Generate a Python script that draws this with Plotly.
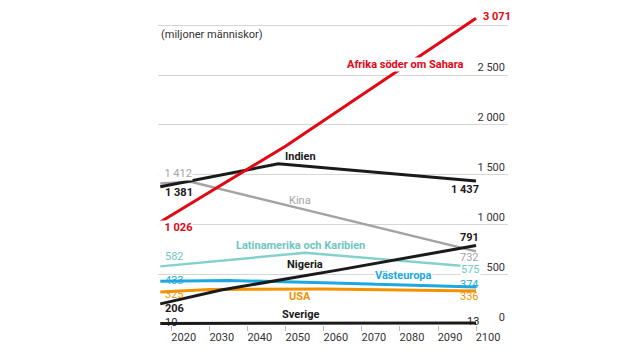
import plotly.graph_objects as go

# ---- data (miljoner människor) ----
ssa_years = [2017, 2030, 2050, 2100]
ssa_vals = [1026, 1330, 1790, 3071]

india_years = [2017, 2048, 2100]
india_vals = [1381, 1610, 1437]

china_years = [2017, 2025, 2100]
china_vals = [1412, 1430, 732]

latam_years = [2017, 2055, 2100]
latam_vals = [582, 718, 575]

nigeria_years = [2017, 2033, 2064, 2100]
nigeria_vals = [206, 345, 547, 791]

weu_years = [2017, 2035, 2060, 2100]
weu_vals = [433, 440, 418, 374]

usa_years = [2017, 2030, 2060, 2100]
usa_vals = [325, 350, 355, 336]

swe_years = [2017, 2100]
swe_vals = [10, 13]

x_ticks = [2020, 2030, 2040, 2050, 2060, 2070, 2080, 2090, 2100]
y_ticks = [0, 500, 1000, 1500, 2000, 2500, 3000]
y_ticktext = ["0", "500", "1 000", "1 500", "2 000", "2 500", ""]

RED = "#e30613"
BLACK = "#1a1a1a"
GREY = "#a3a3a3"
TEAL = "#84d0cb"
TEAL_T = "#6dc7c1"
CYAN = "#1ba9e1"
ORANGE = "#f39200"
FONT = "Roboto"
NB = "&nbsp;"
X_RANGE = [2016.4, 2108.4]


def fmt(v):
    return f"{v:,}".replace(",", " ")


series = [
    (china_years, china_vals, GREY, 2.5),
    (latam_years, latam_vals, TEAL, 2.5),
    (usa_years, usa_vals, ORANGE, 3),
    (weu_years, weu_vals, CYAN, 3),
    (nigeria_years, nigeria_vals, BLACK, 3),
    (swe_years, swe_vals, BLACK, 3),
    (india_years, india_vals, BLACK, 3),
    (ssa_years, ssa_vals, RED, 3),
]

fig = go.Figure()
for xs, ys, col, w in series:
    fig.add_trace(go.Scatter(x=xs, y=ys, mode="lines",
                             line=dict(color=col, width=w),
                             hoverinfo="skip", showlegend=False))

# empty trace so the label-only x axis is drawn
fig.add_trace(go.Scatter(x=[None], y=[None], xaxis="x2", yaxis="y",
                         mode="lines", hoverinfo="skip", showlegend=False))

ann = []


def lab(x, y, text, color, anchor="center", bold=True, bg=None, size=11, pre=""):
    t = f"<b>{text}</b>" if bold else text
    d = dict(x=x, y=y, xref="x", yref="y", text=pre + t,
             showarrow=False, xanchor=anchor, yanchor="middle",
             font=dict(family=FONT, size=size, color=color))
    if bg:
        d["bgcolor"] = bg
        d["borderpad"] = 0
    ann.append(d)


XL = 2017.6   # left label anchor
XE = X_RANGE[0]  # plot left edge (for labels with background)
XR = 2101.2   # right label anchor

# start values
lab(XE, 1509, fmt(china_vals[0]), GREY, "left", bold=False, bg="white", pre=NB * 2)
lab(XL, 1319, fmt(india_vals[0]), BLACK, "left")
lab(XE, 968, fmt(ssa_vals[0]), RED, "left", bg="white", pre=NB * 2)
lab(XL, 677, fmt(latam_vals[0]), TEAL_T, "left", bold=False)
lab(XL, 436, fmt(weu_vals[0]), CYAN, "left", bold=False)
lab(XL, 296, fmt(usa_vals[0]), ORANGE, "left", bold=False)
lab(XL, 155, fmt(nigeria_vals[0]), BLACK, "left")
lab(XL, 17, fmt(swe_vals[0]), BLACK, "left", bold=False)

# end values
lab(2101.4, 3084, fmt(ssa_vals[-1]), RED, "left")
lab(XR, 1349, fmt(india_vals[-1]), BLACK, "right")
lab(XR, 868, fmt(nigeria_vals[-1]), BLACK, "right")
lab(XR, 667, fmt(china_vals[-1]), GREY, "right", bold=False)
lab(XR, 547, fmt(latam_vals[-1]), TEAL_T, "right", bold=False, bg="white")
lab(XR, 396, fmt(weu_vals[-1]), CYAN, "right", bold=False)
lab(XR, 276, fmt(usa_vals[-1]), ORANGE, "right", bold=False)
lab(XR, 25, fmt(swe_vals[-1]), BLACK, "right", bold=False)

# series names
lab(2097, 2602, "Afrika söder om Sahara", RED, "right", bg="white")
lab(2053.8, 1680, "Indien", BLACK)
lab(2053.8, 1239, "Kina", GREY, bold=False)
lab(2053.8, 792, "Latinamerika och Karibien", TEAL_T)
lab(2055, 597, "Nigeria", BLACK)
lab(2080.9, 486, "Västeuropa", CYAN, bg="white")
lab(2053.8, 276, "USA", ORANGE)
lab(2053.8, 95, "Sverige", BLACK)

lab(2016.6, 2910, "(miljoner människor)", "#333333", "left", bold=False)

fig.update_layout(
    width=640, height=350,
    margin=dict(l=158, r=132, t=10, b=25),
    paper_bgcolor="white", plot_bgcolor="white",
    font=dict(family=FONT, size=11, color="#333333"),
    showlegend=False,
    annotations=ann,
    xaxis=dict(range=X_RANGE, tickvals=x_ticks, showticklabels=False,
               automargin=False,
               ticks="outside", ticklen=5, tickcolor="#bbbbbb", tickwidth=1,
               showgrid=False, zeroline=False, showline=False),
    xaxis2=dict(range=X_RANGE, overlaying="x", anchor="free", position=0,
                side="bottom", tickvals=x_ticks,
                ticktext=[str(t) for t in x_ticks], automargin=False,
                ticks="", ticklabelshift=12, ticklabelstandoff=4,
                showgrid=False, zeroline=False, showline=False,
                tickfont=dict(size=11, color="#333333")),
    yaxis=dict(range=[-6, 3153], tickvals=y_ticks, ticktext=y_ticktext,
               side="right", ticklabelposition="inside top", automargin=False,
               showgrid=True, gridcolor="#d6d6d6", gridwidth=1,
               zeroline=False, showline=False, ticks="",
               tickfont=dict(size=11, color="#333333")),
)

fig.write_html("out.html")
